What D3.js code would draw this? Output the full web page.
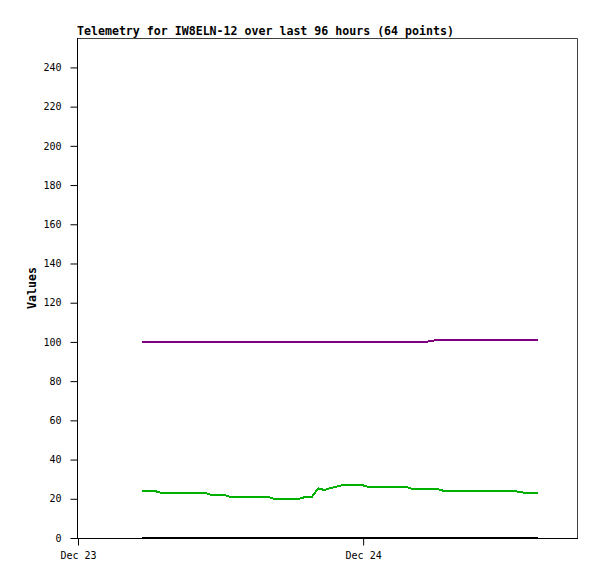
<!DOCTYPE html>
<html>
<head>
<meta charset="utf-8">
<script src="https://cdn.jsdelivr.net/npm/d3@7/dist/d3.min.js"></script>
<style>
  html, body { margin: 0; padding: 0; background: #fff; }
  svg { display: block; }
  text { font-family: "DejaVu Sans Mono", "Liberation Mono", monospace; fill: #000; }
</style>
</head>
<body>
<svg id="chart" width="597" height="579"></svg>
<script>
// ---- data ----
const title = "Telemetry for IW8ELN-12 over last 96 hours (64 points)";
const yLabel = "Values";
const startDate = new Date(2023, 11, 23, 0, 0, 0);
const endDate = new Date(2023, 11, 24, 18, 0, 0);
const xTickDates = [new Date(2023, 11, 23), new Date(2023, 11, 24)];
const xTickLabels = ["Dec 23", "Dec 24"];
const yTicks = [0, 20, 40, 60, 80, 100, 120, 140, 160, 180, 200, 220, 240];
const yMax = 255;

// hours after Dec 23 00:00
const hours = [
  5.39, 5.92, 6.45, 6.98, 7.51, 8.04, 8.57, 9.10, 9.63, 10.15,
  10.68, 11.21, 11.74, 12.27, 12.80, 13.33, 13.86, 14.39, 14.92, 15.45,
  15.98, 16.51, 17.04, 17.57, 18.10, 18.63, 19.15, 19.68, 20.21, 20.74,
  21.27, 21.80, 22.33, 22.86, 23.39, 23.92, 24.45, 24.98, 25.51, 26.04,
  26.57, 27.10, 27.63, 28.15, 28.68, 29.21, 29.74, 30.27, 30.80, 31.33,
  31.86, 32.39, 32.92, 33.45, 33.98, 34.51, 35.04, 35.57, 36.10, 36.63,
  37.15, 37.68, 38.21, 38.74
];

const purpleValues = [
  100, 100, 100, 100, 100, 100, 100, 100, 100, 100,
  100, 100, 100, 100, 100, 100, 100, 100, 100, 100,
  100, 100, 100, 100, 100, 100, 100, 100, 100, 100,
  100, 100, 100, 100, 100, 100, 100, 100, 100, 100,
  100, 100, 100, 100, 100, 100, 100.5, 101, 101, 101,
  101, 101, 101, 101, 101, 101, 101, 101, 101, 101,
  101, 101, 101, 101
];

const greenValues = [
  24, 24, 24, 23, 23, 23, 23, 23, 23, 23,
  23, 22, 22, 22, 21, 21, 21, 21, 21, 21,
  21, 20, 20, 20, 20, 20, 21, 21, 25.3, 24.5,
  25.5, 26.3, 27, 27, 27, 27, 26, 26, 26, 26,
  26, 26, 26, 25, 25, 25, 25, 25, 24, 24,
  24, 24, 24, 24, 24, 24, 24, 24, 24, 24,
  23.5, 23, 23, 23
];

const blackValues = [
  0, 0, 0, 0, 0, 0, 0, 0, 0, 0,
  0, 0, 0, 0, 0, 0, 0, 0, 0, 0,
  0, 0, 0, 0, 0, 0, 0, 0, 0, 0,
  0, 0, 0, 0, 0, 0, 0, 0, 0, 0,
  0, 0, 0, 0, 0, 0, 0, 0, 0, 0,
  0, 0, 0, 0, 0, 0, 0, 0, 0, 0,
  0, 0, 0, 0
];

const series = [
  { name: "purple", values: purpleValues, color: "#800080", width: 2 },
  { name: "green", values: greenValues, color: "#00b000", width: 2 },
  { name: "black", values: blackValues, color: "#000000", width: 2 }
];

// ---- layout ----
const pLeft = 78, pRight = 577, pTop = 38, pBottom = 538;
const svg = d3.select("#chart");

const x = d3.scaleTime().domain([startDate, endDate]).range([pLeft, pRight]);
const y = d3.scaleLinear().domain([0, yMax]).range([pBottom, pTop]);

const times = hours.map(h => new Date(startDate.getTime() + h * 3600 * 1000));

// frame (top/right gray)
svg.append("path")
  .attr("d", `M${pLeft},${pTop + 0.5}H${pRight + 0.5}V${pBottom}`)
  .attr("fill", "none")
  .attr("stroke", "#404040")
  .attr("stroke-width", 1);

// y axis
const yAxis = d3.axisLeft(y).tickValues(yTicks).tickSize(7).tickPadding(9);
const gy = svg.append("g").attr("transform", `translate(${pLeft - 0.5},0)`).call(yAxis);
gy.select(".domain").attr("d", `M0,${pTop}V${pBottom}`).attr("stroke", "#000");
gy.selectAll("text").attr("font-size", "10px")
  .attr("font-family", "'DejaVu Sans Mono', monospace");

// x axis
const xAxis = d3.axisBottom(x).tickValues(xTickDates)
  .tickFormat((d, i) => xTickLabels[i]).tickSize(7).tickPadding(6);
const gx = svg.append("g").attr("transform", `translate(0,${pBottom + 0.5})`).call(xAxis);
gx.select(".domain").attr("d", `M${pLeft - 1},0H${pRight + 1}`).attr("stroke", "#000");
gx.selectAll("text").attr("font-size", "10px")
  .attr("font-family", "'DejaVu Sans Mono', monospace");

// lines
const line = d3.line().x((d, i) => x(times[i])).y(d => y(d));
series.forEach(s => {
  svg.append("path")
    .datum(s.values)
    .attr("d", line)
    .attr("fill", "none")
    .attr("stroke", s.color)
    .attr("stroke-width", s.width)
    .attr("shape-rendering", "crispEdges");
});

// title
svg.append("text")
  .attr("x", 77).attr("y", 35)
  .attr("font-size", "11.6px").attr("font-weight", "bold")
  .text(title);

// y label
svg.append("text")
  .attr("transform", `translate(36,${(pTop + pBottom) / 2}) rotate(-90)`)
  .attr("text-anchor", "middle")
  .attr("font-size", "11.6px").attr("font-weight", "bold")
  .text(yLabel);
</script>
</body>
</html>
